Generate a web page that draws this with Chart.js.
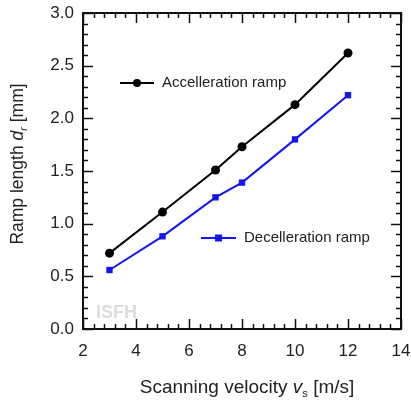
<!DOCTYPE html>
<html>
<head>
<meta charset="utf-8">
<script src="https://cdn.jsdelivr.net/npm/chart.js@4"></script>
<style>
  html, body { margin: 0; padding: 0; background: #fff; }
  #wrap { width: 411px; height: 402px; }
</style>
</head>
<body>
<div id="wrap"><canvas id="rampChart" width="411" height="402"></canvas></div>
<script>
  // data
  const velocity = [3, 5, 7, 8, 10, 12];
  const accelRamp = [0.72, 1.11, 1.51, 1.73, 2.13, 2.62];
  const decelRamp = [0.56, 0.88, 1.25, 1.39, 1.80, 2.22];
  const xTicks = [2, 4, 6, 8, 10, 12, 14];
  const yTicks = [0.0, 0.5, 1.0, 1.5, 2.0, 2.5, 3.0];

  const FONT = 'Liberation Sans, Arial, sans-serif';
  const BLUE = 'rgb(20, 20, 245)';

  function pts(ys) {
    return velocity.map((v, i) => ({ x: v, y: ys[i] }));
  }

  // frame, inward ticks, titles, legends, watermark
  const decor = {
    id: 'decor',
    beforeDatasetsDraw(chart) {
      const ctx = chart.ctx;
      ctx.save();
      // watermark
      ctx.fillStyle = '#dcdcdc';
      ctx.font = 'bold 18px ' + FONT;
      ctx.textBaseline = 'alphabetic';
      ctx.fillText('ISFH', 96, 318);
      ctx.restore();
    },
    afterDraw(chart) {
      const ctx = chart.ctx;
      const a = chart.chartArea;
      const xs = chart.scales.x, ys = chart.scales.y;
      ctx.save();
      ctx.strokeStyle = '#111';
      ctx.lineWidth = 1.5;
      // x ticks (bottom + top), minor every 0.4
      for (let i = 0; i <= 30; i++) {
        const v = 2 + i * 0.4;
        const px = Math.round(xs.getPixelForValue(v)) + 0.5;
        const len = (i % 5 === 0) ? 10 : 5;
        ctx.beginPath();
        ctx.moveTo(px, a.bottom); ctx.lineTo(px, a.bottom - len);
        ctx.moveTo(px, a.top); ctx.lineTo(px, a.top + len);
        ctx.stroke();
      }
      // y ticks (left + right), minor every 0.1
      for (let i = 0; i <= 30; i++) {
        const v = i * 0.1;
        const py = Math.round(ys.getPixelForValue(v)) + 0.5;
        const len = (i % 5 === 0) ? 10 : 5;
        ctx.beginPath();
        ctx.moveTo(a.left, py); ctx.lineTo(a.left + len, py);
        ctx.moveTo(a.right, py); ctx.lineTo(a.right - len, py);
        ctx.stroke();
      }
      // frame
      ctx.lineWidth = 2;
      ctx.strokeRect(a.left, a.top, a.right - a.left, a.bottom - a.top);

      // x axis title
      ctx.fillStyle = '#222';
      ctx.textBaseline = 'alphabetic';
      const parts = [
        ['Scanning velocity ', '19px ' + FONT, 0],
        ['v', 'italic 19px ' + FONT, 0],
        ['s', '11px ' + FONT, 4],
        [' [m/s]', '19px ' + FONT, 0]
      ];
      drawParts(ctx, parts, 247, 393);

      // y axis title (rotated)
      ctx.save();
      ctx.translate(23, 164);
      ctx.rotate(-Math.PI / 2);
      const yparts = [
        ['Ramp length ', '17.5px ' + FONT, 0],
        ['d', 'italic 17.5px ' + FONT, 0],
        ['r', 'italic 11px ' + FONT, 4],
        [' [mm]', '17.5px ' + FONT, 0]
      ];
      drawParts(ctx, yparts, 0, 0);
      ctx.restore();

      // legends
      legendItem(ctx, 120, 154, 83, '#000', 'circle', 'Accelleration ramp', 162);
      legendItem(ctx, 201, 236, 238, BLUE, 'rect', 'Decelleration ramp', 244);
      ctx.restore();
    }
  };

  function drawParts(ctx, parts, cx, baseY) {
    let w = 0;
    parts.forEach(p => { ctx.font = p[1]; w += ctx.measureText(p[0]).width; });
    let x = cx - w / 2;
    ctx.textAlign = 'left';
    parts.forEach(p => {
      ctx.font = p[1];
      ctx.fillText(p[0], x, baseY + p[2]);
      x += ctx.measureText(p[0]).width;
    });
  }

  function legendItem(ctx, x0, x1, y, color, shape, label, tx) {
    ctx.save();
    ctx.strokeStyle = color;
    ctx.fillStyle = color;
    ctx.lineWidth = 2;
    ctx.beginPath();
    ctx.moveTo(x0, y); ctx.lineTo(x1, y);
    ctx.stroke();
    const mx = (x0 + x1) / 2;
    if (shape === 'circle') {
      ctx.beginPath();
      ctx.arc(mx, y, 4, 0, Math.PI * 2);
      ctx.fill();
    } else {
      ctx.fillRect(mx - 3.5, y - 3.5, 7, 7);
    }
    ctx.fillStyle = '#222';
    ctx.font = '15px ' + FONT;
    ctx.textBaseline = 'middle';
    ctx.textAlign = 'left';
    ctx.fillText(label, tx, y);
    ctx.restore();
  }

  new Chart(document.getElementById('rampChart'), {
    type: 'scatter',
    data: {
      datasets: [{
        label: 'Accelleration ramp',
        data: pts(accelRamp),
        showLine: true,
        borderColor: '#000',
        backgroundColor: '#000',
        borderWidth: 2,
        pointStyle: 'circle',
        pointRadius: 4.5,
        pointBorderWidth: 0
      }, {
        label: 'Decelleration ramp',
        data: pts(decelRamp),
        showLine: true,
        borderColor: BLUE,
        backgroundColor: BLUE,
        borderWidth: 2,
        pointStyle: 'rect',
        pointRadius: 4.5,
        pointBorderWidth: 0
      }]
    },
    options: {
      responsive: false,
      animation: false,
      layout: { padding: { top: 13, right: 10, left: 0, bottom: 0 } },
      plugins: { legend: { display: false }, tooltip: { enabled: false } },
      scales: {
        x: {
          type: 'linear', min: 2, max: 14,
          afterBuildTicks: s => { s.ticks = xTicks.map(v => ({ value: v })); },
          afterFit: s => { s.height = 73; s.paddingLeft = 0; s.paddingRight = 0; },
          grid: { display: false, drawTicks: false },
          border: { display: false },
          ticks: { color: '#222', font: { size: 17, family: FONT }, padding: 12, maxRotation: 0 }
        },
        y: {
          type: 'linear', min: 0, max: 3,
          afterBuildTicks: s => { s.ticks = yTicks.map(v => ({ value: v })); },
          afterFit: s => { s.width = 83; s.paddingTop = 0; s.paddingBottom = 0; },
          grid: { display: false, drawTicks: false },
          border: { display: false },
          ticks: { color: '#222', font: { size: 17, family: FONT }, padding: 9,
                   callback: v => v.toFixed(1) }
        }
      }
    },
    plugins: [decor]
  });
</script>
</body>
</html>
